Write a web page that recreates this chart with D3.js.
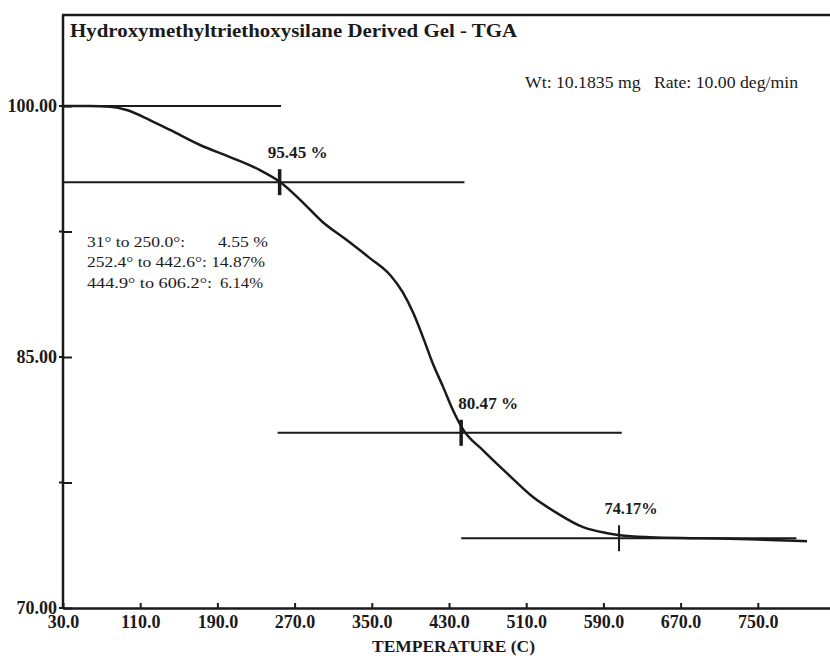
<!DOCTYPE html>
<html>
<head>
<meta charset="utf-8">
<script src="https://cdn.jsdelivr.net/npm/d3@7"></script>
<style>
	body { margin: 0; background: #fff; }
	svg { display: block; }
	.tick text { font-family: "Liberation Serif", "Times New Roman", serif; font-weight: bold; font-size: 18px; fill: #1a1a1a; }
	.tick line { stroke: #1a1a1a; stroke-width: 2; }
</style>
</head>
<body>
<div id="chartDiv"></div>
<script>
;(function() {

	var width = 830;
	var height = 656;

	// TGA curve: temperature (C) and weight (%)
	var temps = [30, 58, 79, 96, 120, 141, 172, 203, 234, 255, 276, 299, 324, 348, 369, 382, 393, 403, 413, 424, 434, 445, 465, 490, 517, 542, 569, 594, 607, 638, 687, 742, 801];
	var weights = [100, 100, 99.95, 99.76, 99.16, 98.57, 97.67, 96.95, 96.17, 95.46, 94.38, 93.07, 91.99, 90.91, 89.9, 88.88, 87.63, 86.19, 84.64, 83.2, 81.83, 80.63, 79.44, 78.06, 76.63, 75.67, 74.83, 74.47, 74.35, 74.23, 74.17, 74.11, 73.99];

	// step levels: horizontal lines [level, from T, to T]
	var stepLevels = [100, 95.45, 80.47, 74.17];
	var stepFrom = [30, 30, 252.4, 442.6];
	var stepTo = [256, 446, 609, 790];

	// crossing marks and their labels
	var markTemps = [254.5, 442.6, 606.2];
	var markLevels = [95.45, 80.47, 74.17];
	var markLabels = ["95.45 %", "80.47 %", "74.17%"];
	var markLabelWidths = [60, 60, 53];

	var xTicks = [30, 110, 190, 270, 350, 430, 510, 590, 670, 750];
	var yTicks = [100, 92.5, 85, 77.5, 70];
	var yLabelled = [100, 85, 70];

	var summaryRanges = ["31° to 250.0°:", "252.4° to 442.6°: 14.87%", "444.9° to 606.2°:"];
	var summaryRangeWidths = [98, 178, 125];
	var summaryLoss = ["4.55 %", "", "6.14%"];
	var summaryLossX = [218, 0, 220];
	var summaryLossWidths = [50, 0, 43];

	var ink = "#1a1a1a";
	var serif = "'Liberation Serif', 'Times New Roman', serif";

	var svg = d3.select("#chartDiv").append("svg")
		.attr("width", width)
		.attr("height", height);

	var xScale = d3.scaleLinear().domain([30, 830]).range([63, 835]);
	var yScale = d3.scaleLinear().domain([70, 105.44]).range([608, 15]);

	// frame top
	svg.append("line")
		.attr("x1", 62).attr("x2", 835)
		.attr("y1", 15).attr("y2", 15)
		.attr("stroke", ink).attr("stroke-width", 2.5);

	// axes
	var xAxis = d3.axisBottom(xScale)
		.tickValues(xTicks)
		.tickSizeInner(-5)
		.tickSizeOuter(0)
		.tickPadding(7)
		.tickFormat(d3.format(".1f"));

	svg.append("g")
		.attr("transform", "translate(0," + yScale(70) + ")")
		.call(xAxis)
		.call(function(g) { g.select(".domain").attr("stroke", ink).attr("stroke-width", 2.5); });

	var yAxis = d3.axisLeft(yScale)
		.tickValues(yTicks)
		.tickSizeInner(-9)
		.tickSizeOuter(0)
		.tickPadding(6)
		.tickFormat(function(d) { return yLabelled.indexOf(d) >= 0 ? d3.format(".2f")(d) : ""; });

	svg.append("g")
		.attr("transform", "translate(" + xScale(30) + ",0)")
		.call(yAxis)
		.call(function(g) { g.select(".domain").attr("stroke", ink).attr("stroke-width", 2.5).attr("d", "M0,15V" + yScale(70)); });

	// small outward ticks on y axis
	svg.selectAll(".ytick-out")
		.data(yTicks)
		.enter().append("line")
		.attr("x1", xScale(30) - 4).attr("x2", xScale(30))
		.attr("y1", function(d) { return yScale(d); })
		.attr("y2", function(d) { return yScale(d); })
		.attr("stroke", ink).attr("stroke-width", 2);

	// step lines
	svg.selectAll(".step")
		.data(stepLevels)
		.enter().append("line")
		.attr("class", "step")
		.attr("x1", function(d, i) { return xScale(stepFrom[i]); })
		.attr("x2", function(d, i) { return xScale(stepTo[i]); })
		.attr("y1", function(d) { return yScale(d); })
		.attr("y2", function(d) { return yScale(d); })
		.attr("stroke", ink).attr("stroke-width", 2);

	// curve
	var line = d3.line()
		.x(function(d, i) { return xScale(temps[i]); })
		.y(function(d) { return yScale(d); })
		.curve(d3.curveMonotoneX);

	svg.append("path")
		.datum(weights)
		.attr("d", line)
		.attr("fill", "none")
		.attr("stroke", ink)
		.attr("stroke-width", 2.5);

	// crossing marks
	svg.selectAll(".mark")
		.data(markTemps)
		.enter().append("line")
		.attr("class", "mark")
		.attr("x1", function(d) { return xScale(d); })
		.attr("x2", function(d) { return xScale(d); })
		.attr("y1", function(d, i) { return yScale(markLevels[i]) - 13; })
		.attr("y2", function(d, i) { return yScale(markLevels[i]) + 13; })
		.attr("stroke", ink)
		.attr("stroke-width", function(d, i) { return i < 2 ? 3.5 : 2; });

	var labelShift = [18, 27, 12];
	svg.selectAll(".markLabel")
		.data(markLabels)
		.enter().append("text")
		.attr("x", function(d, i) { return xScale(markTemps[i]) + labelShift[i] - markLabelWidths[i] / 2; })
		.attr("y", function(d, i) { return yScale(markLevels[i]) - 24; })
		.attr("textLength", function(d, i) { return markLabelWidths[i]; })
		.attr("lengthAdjust", "spacingAndGlyphs")
		.style("font-family", serif).style("font-weight", "bold").style("font-size", "16px")
		.attr("fill", ink)
		.text(function(d) { return d; });

	// title
	svg.append("text")
		.attr("x", 70).attr("y", 37)
		.attr("textLength", 447)
		.attr("lengthAdjust", "spacingAndGlyphs")
		.style("font-family", serif).style("font-weight", "bold").style("font-size", "19px")
		.attr("fill", ink)
		.text("Hydroxymethyltriethoxysilane Derived Gel - TGA");

	svg.append("text")
		.attr("x", 525).attr("y", 88)
		.attr("textLength", 273)
		.attr("lengthAdjust", "spacingAndGlyphs")
		.style("font-family", serif).style("font-size", "16px")
		.attr("fill", ink)
		.attr("xml:space", "preserve")
		.text("Wt: 10.1835 mg   Rate: 10.00 deg/min");

	// summary of weight loss steps
	var summaryY = [247, 267, 288];
	svg.selectAll(".sumRange")
		.data(summaryRanges)
		.enter().append("text")
		.attr("x", 87)
		.attr("y", function(d, i) { return summaryY[i]; })
		.attr("textLength", function(d, i) { return summaryRangeWidths[i]; })
		.attr("lengthAdjust", "spacingAndGlyphs")
		.style("font-family", serif).style("font-size", "15.5px")
		.attr("fill", ink)
		.text(function(d) { return d; });

	svg.selectAll(".sumLoss")
		.data(summaryLoss.filter(function(d) { return d !== ""; }))
		.enter().append("text")
		.attr("x", function(d) { return summaryLossX[summaryLoss.indexOf(d)]; })
		.attr("y", function(d) { return summaryY[summaryLoss.indexOf(d)]; })
		.attr("textLength", function(d) { return summaryLossWidths[summaryLoss.indexOf(d)]; })
		.attr("lengthAdjust", "spacingAndGlyphs")
		.style("font-family", serif).style("font-size", "15.5px")
		.attr("fill", ink)
		.text(function(d) { return d; });

	// x axis header
	svg.append("text")
		.attr("x", 372).attr("y", 652)
		.attr("textLength", 163)
		.attr("lengthAdjust", "spacingAndGlyphs")
		.style("font-family", serif).style("font-weight", "bold").style("font-size", "16px")
		.attr("fill", ink)
		.text("TEMPERATURE (C)");

})();
</script>
</body>
</html>
